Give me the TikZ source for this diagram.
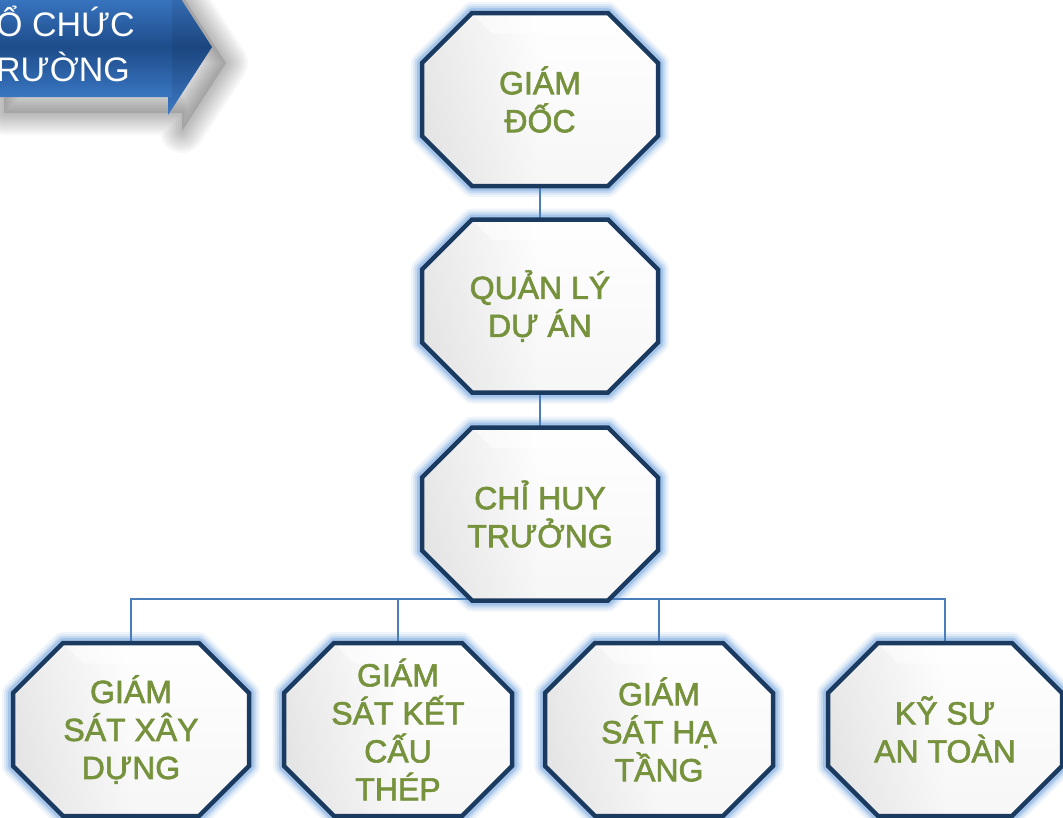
\documentclass[tikz,border=0pt]{standalone}
\usepackage{fontspec}
\setmainfont{Liberation Sans}
\newfontfamily\boxfont[FakeBold=2]{Liberation Sans}
\definecolor{txtgreen}{HTML}{76923C}
\definecolor{navy}{HTML}{1B3A60}
\definecolor{glowblue}{HTML}{7DAAE0}
\definecolor{connblue}{HTML}{4A7EBB}
\definecolor{bannerdark}{HTML}{1E4C8A}
\definecolor{bannerlight}{HTML}{4385D6}
\pgfdeclarelayer{bg}
\pgfsetlayers{bg,main}
\newcommand\octpath[3]{(#1-#3+50,#2-86.5) -- (#1+#3-50,#2-86.5) -- (#1+#3,#2-36.5) -- (#1+#3,#2+36.5) -- (#1+#3-50,#2+86.5) -- (#1-#3+50,#2+86.5) -- (#1-#3,#2+36.5) -- (#1-#3,#2-36.5) -- cycle}
\newcommand\octglow[3]{%
  \foreach \w/\c in {22/12,18/25,14/45,10/70}{\draw[glowblue!\c!white,line width=\w pt,line join=round] \octpath{#1}{#2}{#3};}}
\newcommand\octbody[3]{%
  \shade[top color=white,bottom color=gray!16] \octpath{#1}{#2}{#3};
  \shade[left color=black!14,right color=white,middle color=white,fill opacity=0.6] \octpath{#1}{#2}{#3};
  \fill[white,opacity=0.5] (#1-#3+50,#2-86.5) -- (#1+#3-50,#2-86.5) -- (#1+#3-70,#2-66) -- (#1-#3+70,#2-66) -- cycle;
  \draw[navy,line width=4.5pt,line join=miter] \octpath{#1}{#2}{#3};}
\newcommand\bannerpath{(-10,0) -- (168,0) -- (168,-21) -- (212,47) -- (168,115) -- (168,97) -- (-10,97) -- cycle}
\tikzset{
  lbl/.style={minimum width=236pt, minimum height=173pt, inner sep=0pt, align=center,
    text=txtgreen, font=\boxfont\fontsize{32}{38}\selectfont},
  conn/.style={connblue, line width=1.6pt},
  bantext/.style={anchor=base west, inner sep=0pt, text=white, font=\fontsize{34}{40}\selectfont}
}
\begin{document}
\begin{tikzpicture}[x=1pt,y=-1pt]
\useasboundingbox (0,0) rectangle (1063,817);
\clip (0,0) rectangle (1063,817);
% banner shadow
\foreach \w in {44,40,...,4}{
  \draw[black,opacity=0.028,line width=\w pt,line join=round,shift={(14,16)}] \bannerpath;}
\fill[black,opacity=0.12,shift={(14,16)}] \bannerpath;
% banner
\shade[top color=bannerlight,bottom color=bannerlight,middle color=bannerdark] \bannerpath;
\fill[black,opacity=0.08] (168,-21) -- (212,47) -- (168,115) -- (168,97) -- (172,97) -- (172,0) -- (168,0) -- cycle;
\node[bantext] (t1) at (-4,36) {Ổ CHỨC};
\node[bantext] (t2) at (-4,81) {RƯỜNG};
% glows
\begin{pgfonlayer}{bg}
\octglow{540}{99.5}{118}
\octglow{540}{306}{118}
\octglow{540}{514}{118}
\octglow{131}{729.5}{118}
\octglow{398}{729.5}{114}
\octglow{659}{729.5}{114}
\octglow{945}{729.5}{117}
\end{pgfonlayer}
% bodies
\octbody{540}{99.5}{118}
\octbody{540}{306}{118}
\octbody{540}{514}{118}
\octbody{131}{729.5}{118}
\octbody{398}{729.5}{114}
\octbody{659}{729.5}{114}
\octbody{945}{729.5}{117}
% nodes
\node[lbl] (gd) at (540,99.5) {GIÁM\\ĐỐC};
\node[lbl] (ql) at (540,306) {QUẢN LÝ\\DỰ ÁN};
\node[lbl] (cht) at (540,514) {CHỈ HUY\\TRƯỞNG};
\node[lbl] (gsxd) at (131,729.5) {GIÁM\\SÁT XÂY\\DỰNG};
\node[lbl,minimum width=228pt] (gskc) at (398,729.5) {GIÁM\\SÁT KẾT\\CẤU\\THÉP};
\node[lbl,minimum width=228pt] (gsht) at (659,729.5) {GIÁM\\SÁT HẠ\\TẦNG};
\node[lbl,minimum width=234pt] (ktat) at (945,729.5) {KỸ SƯ\\AN TOÀN};
\coordinate (bus) at (540,599);
% connectors
\begin{pgfonlayer}{bg}
\draw[conn] (gd.south) -- (ql.north);
\draw[conn] (ql.south) -- (cht.north);
\draw[conn] (cht.south) -- (bus);
\draw[conn] (gsxd.north) -- (gsxd.north |- bus) -- (ktat.north |- bus) -- (ktat.north);
\draw[conn] (gskc.north) -- (gskc.north |- bus);
\draw[conn] (gsht.north) -- (gsht.north |- bus);
\end{pgfonlayer}
\end{tikzpicture}
\end{document}
